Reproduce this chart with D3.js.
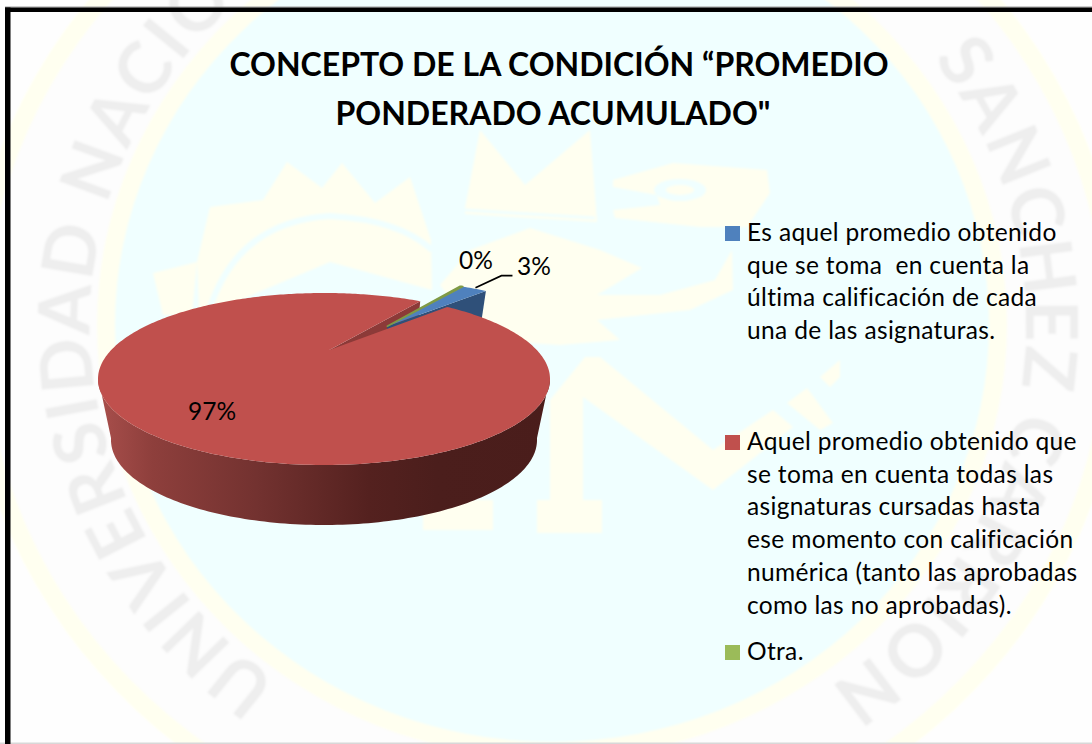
<!DOCTYPE html>
<html><head><meta charset="utf-8">
<script src="https://cdn.jsdelivr.net/npm/d3@7"></script>
<style>
html,body{margin:0;padding:0;background:#fff;overflow:hidden}
text{font-family:Lato,"Noto Sans",sans-serif;white-space:pre}
</style></head><body><svg id="c" width="1092" height="744"></svg>
<script>
const chartTitle = ["CONCEPTO DE LA CONDICIÓN “PROMEDIO", "PONDERADO ACUMULADO\""];
const legendLines = [
  ["Es aquel promedio obtenido","que se toma  en cuenta la","última calificación de cada","una de las asignaturas."],
  ["Aquel promedio obtenido que","se toma en cuenta todas las","asignaturas cursadas hasta","ese momento con calificación","numérica (tanto las aprobadas","como las no aprobadas)."],
  ["Otra."]];
const seriesValues = [2.6, 97.1, 0.3];
const seriesColors = ["#4f81bd", "#c0504d", "#9bbb59"];
const watermarkParts = ["UNIVERSIDAD NACIO", "O", "SANCHEZ", "CARRION"];

const svg = d3.select("#c");
const defs = svg.append("defs");
const deg = Math.PI/180;

/* ---------- background ---------- */
defs.append("filter").attr("id","soft").attr("x","-5%").attr("y","-5%").attr("width","110%").attr("height","110%")
  .append("feGaussianBlur").attr("stdDeviation",1);
const bg = svg.append("g").attr("filter","url(#soft)");
bg.append("rect").attr("x",-10).attr("y",-10).attr("width",1112).attr("height",764).attr("fill","#fefefe");
const CX=552, CY=325;
bg.append("ellipse").attr("cx",545).attr("cy",330).attr("rx",578).attr("ry",538).attr("fill","#fffff0");
bg.append("ellipse").attr("cx",545).attr("cy",330).attr("rx",560).attr("ry",520).attr("fill","#fdfdfd");
bg.append("ellipse").attr("cx",CX).attr("cy",CY).attr("rx",455).attr("ry",434).attr("fill","#fffff0");
bg.append("ellipse").attr("cx",CX).attr("cy",CY).attr("rx",437).attr("ry",417).attr("fill","#f0ffff");
const rx=468, ry=445, RX=558;
defs.append("path").attr("id","ring")
  .attr("d",`M ${RX} ${CY+ry} A ${rx} ${ry} 0 1 1 ${RX} ${CY-ry} A ${rx} ${ry} 0 1 1 ${RX} ${CY+ry}`);
[0.104,0.592,0.65,0.78].forEach((o,i)=>{
  bg.append("text").attr("font-size",72).attr("font-weight",700).attr("fill","#eeeeee").attr("letter-spacing",3)
    .append("textPath").attr("href","#ring").attr("startOffset",(o*100)+"%").text(watermarkParts[i]);
});
const yellow="#fffff0", cyan="#f0ffff";
const emblem = [
 [[197,262],[210,207],[263,200],[287,162],[322,188],[342,163],[375,203],[410,177],[431,240],[432,290],[330,262],[240,300],[200,330]],
 [[153,273],[197,262],[192,315],[163,315]],
 [[465,208],[480,130],[525,185],[590,130],[597,222],[465,214]],
 [[440,285],[470,250],[530,228],[600,250],[642,268],[597,295],[660,295],[715,280],[732,250],[733,290],[690,310],[597,320],[620,340],[560,345],[480,340]],
 [[613,180],[673,163],[767,170],[770,193],[747,227],[700,227],[615,218],[613,210],[660,205],[657,195],[613,187]],
 [[585,357],[600,357],[713,450],[773,410],[793,427],[713,490],[583,397],[583,530],[550,530],[550,400]],
 [[787,403],[807,388],[833,423],[820,430]],
 [[820,377],[840,360],[840,377],[830,387]],
 [[423,500],[493,500],[493,530],[423,530]],
 [[537,500],[602,500],[602,533],[537,533]]
];
bg.selectAll("path.em").data(emblem).join("path").attr("class","em")
  .attr("d",d3.line().curve(d3.curveLinearClosed)).attr("fill",yellow);
bg.append("path").attr("fill","none").attr("stroke",cyan).attr("stroke-width",6)
  .attr("d","M205 325 Q230 222 330 216 Q400 220 432 250");
bg.append("path").attr("fill","none").attr("stroke",cyan).attr("stroke-width",3)
  .attr("d","M465 210 L595 218");
bg.append("ellipse").attr("cx",680).attr("cy",190).attr("rx",26).attr("ry",11).attr("fill",cyan);
bg.append("ellipse").attr("cx",680).attr("cy",190).attr("rx",14).attr("ry",5).attr("fill",yellow);

/* ---------- frame ---------- */
const frame = svg.append("g");
frame.append("rect").attr("x",0).attr("y",742.5).attr("width",1092).attr("height",1.5).attr("fill","#d8d8d8");
frame.append("rect").attr("x",5).attr("y",6.5).attr("width",1087).attr("height",1).attr("fill","#999");
frame.append("rect").attr("x",5).attr("y",7.5).attr("width",1087).attr("height",4.5).attr("fill","#000");
frame.append("rect").attr("x",5).attr("y",7.5).attr("width",5.5).attr("height",736.5).attr("fill","#000");

/* ---------- title ---------- */
svg.append("g").selectAll("text").data(chartTitle).join("text")
  .attr("x",(d,i)=>i?553:559).attr("y",(d,i)=>76+i*49).attr("text-anchor","middle")
  .attr("font-size",32).attr("font-weight",700).attr("fill","#000").text(d=>d);

/* ---------- pie ---------- */
const xTop = d3.scaleLinear([-1,1],[98,550]), yTop = d3.scaleLinear([-1,1],[293,465]);
const xBot = d3.scaleLinear([-1,1],[111,537]), yBot = d3.scaleLinear([-1,1],[355,525]);
const persp = -0.337, shear = 0.027;
const s = Math.sqrt(1-persp*persp);
// perspective view of a disc: takes a point of the unit disc to the drawn ellipse
function view(x,y){
  const d = 1+persp*y, Y=(y+persp)/d, X=x*s/d;
  return [X+shear*Math.max(0,1-X*X-Y*Y),Y];
}
const onTop = p=>{const [X,Y]=view(p[0],p[1]);return [xTop(X),yTop(Y)];};
const onBot = p=>{const [X,Y]=view(p[0],p[1]);return [xBot(X),yBot(Y)];};
const polar = (a,r=1,off=[0,0])=>[r*Math.sin(a)+off[0],-r*Math.cos(a)+off[1]];

const pie = d3.pie().sort(null).startAngle(36.3*deg).endAngle((36.3+360)*deg);
const arcs = pie(seriesValues);
const [blue,red,green] = arcs;
const explode = [0.47*Math.sin(42*deg),-0.47*Math.cos(42*deg)];
const line = d3.line();
const ringPts = (a0,a1,off,f)=>{
  const n=Math.max(2,Math.ceil((a1-a0)/(1*deg)));
  return d3.range(n+1).map(i=>f(polar(a0+(a1-a0)*i/n,1,off)));
};
const g = svg.append("g");

const grad = defs.append("linearGradient").attr("id","wall").attr("gradientUnits","userSpaceOnUse")
  .attr("x1",98).attr("x2",550).attr("y1",0).attr("y2",0);
[[0,"#a94f4c"],[0.12,"#8e3f3c"],[0.35,"#733230"],[0.6,"#54211f"],[0.75,"#4b1e1c"],[1,"#4a1d1b"]]
  .forEach(([o,c])=>grad.append("stop").attr("offset",o).attr("stop-color",c));

// outer wall of the large slice
const frontTop = ringPts(red.startAngle,red.endAngle,[0,0],p=>p).filter(p=>view(p[0],p[1])[1]>=-0.03);
g.append("path").attr("fill","url(#wall)")
  .attr("d",line(frontTop.map(onTop).concat(frontTop.slice().reverse().map(onBot)))+"Z");

// cut wall of the large slice, seen through the gap
const redEdge = polar(red.endAngle);
g.append("path").attr("fill","#8c3a38")
  .attr("d",line([onTop([0,0]),onTop(redEdge),onBot(redEdge),onBot([0,0])])+"Z");

// exploded small slices
const blueEdge = polar(blue.endAngle,1,explode);
g.append("path").attr("fill","#2f5079")
  .attr("d",line([onTop(explode),onTop(blueEdge),onBot(blueEdge),onBot(explode)])+"Z");
g.append("path").attr("fill",seriesColors[0])
  .attr("d",line([onTop(explode),...ringPts(blue.startAngle,blue.endAngle,explode,onTop)])+"Z");
g.append("path").attr("fill","#7f9a45").attr("stroke","#7f9a45").attr("stroke-width",1.6).attr("stroke-linejoin","round")
  .attr("d",line([onTop(explode),...ringPts(green.startAngle,green.endAngle,explode,onTop)])+"Z");

// top of the large slice
g.append("path").attr("fill",seriesColors[1])
  .attr("d",line([onTop([0,0]),...ringPts(red.startAngle,red.endAngle,[0,0],onTop)])+"Z");

/* ---------- data labels ---------- */
const pct = d3.format(".0%");
const tip = onTop(polar((blue.startAngle+blue.endAngle)/2,1,explode));
const leader = [[tip[0]+1,tip[1]-1],[tip[0]+27,tip[1]-13],[tip[0]+38,tip[1]-13]];
g.append("path").attr("fill","none").attr("stroke","#000").attr("stroke-width",1.6).attr("d",line(leader));
const labelAt = [[517,275],[188,420],[459,269]];
svg.append("g").selectAll("text").data(arcs).join("text")
  .attr("x",(d,i)=>labelAt[i][0]).attr("y",(d,i)=>labelAt[i][1])
  .attr("font-size",24.5).attr("fill","#000").text(d=>pct(d.value/100));

/* ---------- legend ---------- */
const legendTop = [241,450,660];
const leg = svg.append("g").selectAll("g").data(legendLines).join("g");
leg.append("rect").attr("x",725).attr("y",(d,i)=>legendTop[i]-15).attr("width",15).attr("height",15)
  .attr("fill",(d,i)=>seriesColors[i]);
leg.selectAll("text").data((d,i)=>d.map((t,j)=>({t,j,i}))).join("text")
  .attr("x",747).attr("y",d=>legendTop[d.i]+d.j*32.7)
  .attr("font-size",24.5).attr("letter-spacing",0.35).attr("fill","#000").text(d=>d.t);
</script></body></html>
